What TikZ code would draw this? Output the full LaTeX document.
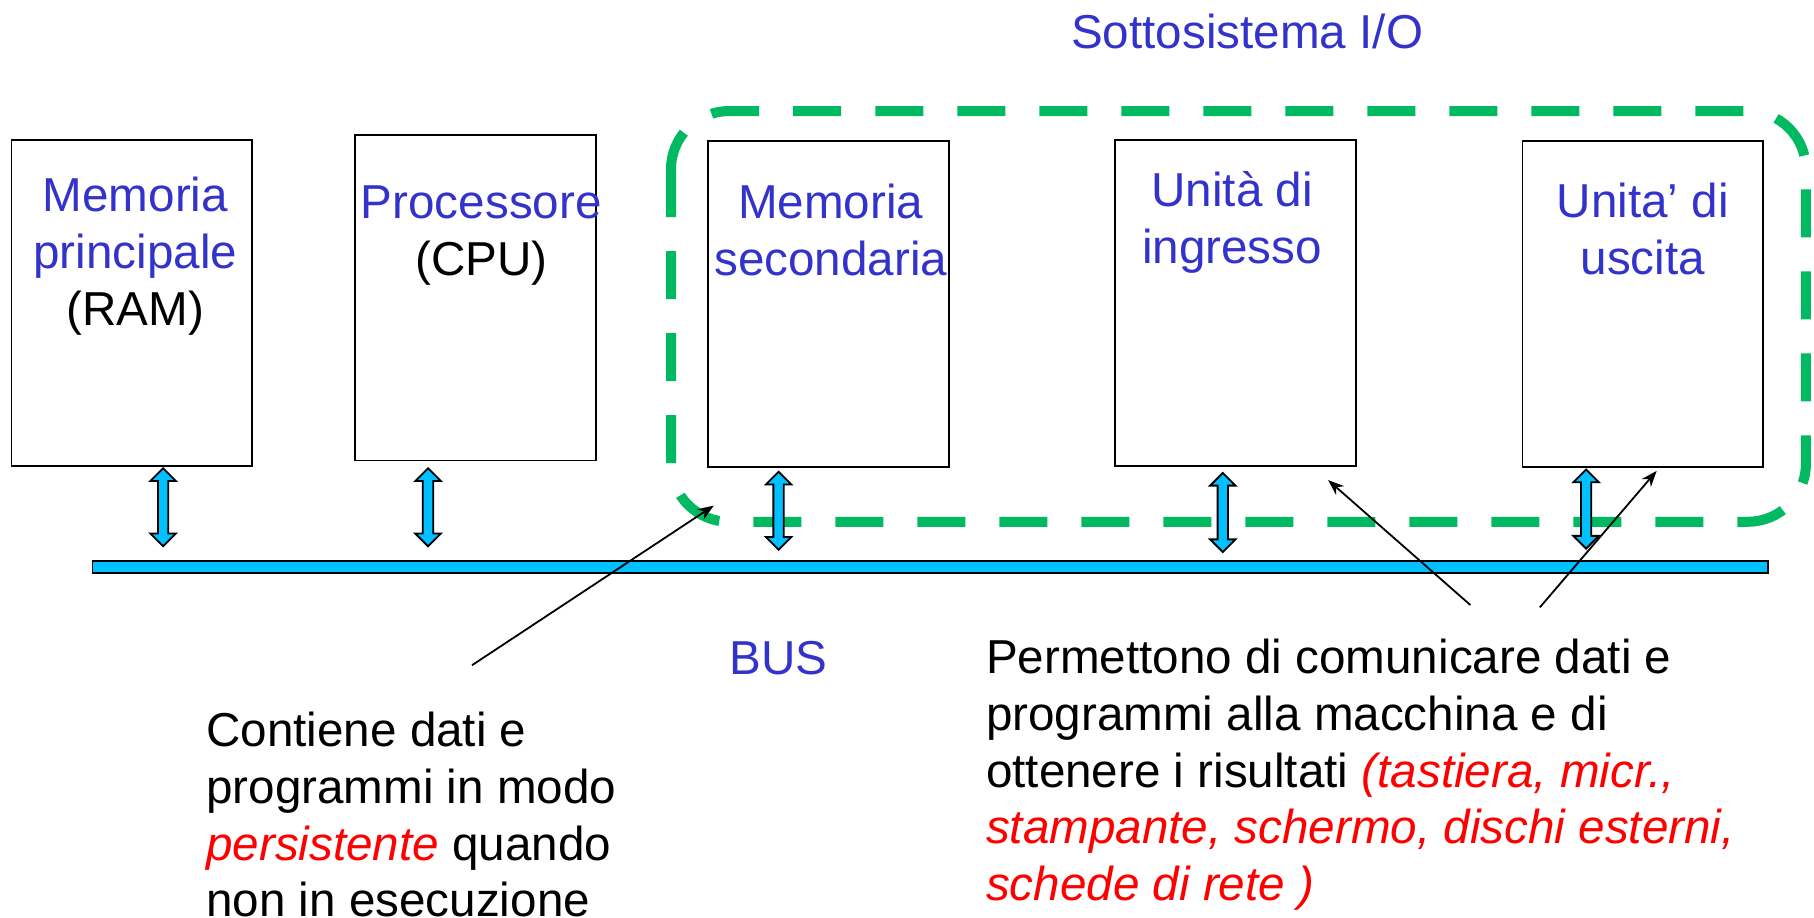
\documentclass[tikz,border=0pt]{standalone}
\usepackage{fontspec}
\setmainfont{Liberation Sans}
\usepackage{xcolor}
\usepackage{tikz}
\usetikzlibrary{arrows.meta}
\usetikzlibrary{calc}
\usetikzlibrary{positioning}

\definecolor{labelblue}{RGB}{51,51,204}
\definecolor{iogreen}{RGB}{0,185,96}
\definecolor{buscyan}{RGB}{0,192,255}
\newcommand{\slidefont}{\fontsize{23.8}{28.4}\selectfont}

\begin{document}
\begin{tikzpicture}[x=0.5784pt, y=-0.5784pt,
    unit/.style={draw, line width=0.9pt, fill=white, inner sep=0pt,
      minimum width=120.3pt, minimum height=163.1pt},
    unittext/.style={anchor=north, align=center, inner sep=0pt,
      text=labelblue, font=\slidefont},
    note/.style={anchor=north west, align=left, inner sep=0pt,
      font=\slidefont},
    iobox/.style={draw=iogreen, line width=5pt,
      dash pattern=on 24pt off 17pt, rounded corners=29pt},
    busarrow/.style={draw, line width=0.9pt, fill=buscyan,
      line join=miter},
    pointer/.style={line width=0.9pt, -{Stealth[length=8pt, width=6pt]}}]

    \useasboundingbox (0,0) rectangle (1568,793);

    % I/O subsystem frame
    \draw [iobox] (580,96) rectangle (1561,451);
    \node [unittext] (iotitle) at (1078,12) {Sottosistema I/O};

    % units
    \node [unit] (ram) at (114,262) {};
    \node [unit, minimum height=162.5pt] (cpu) at (411,257.5) {};
    \node [unit] (secmem) at (716,263) {};
    \node [unit] (inunit) at (1068,262) {};
    \node [unit] (outunit) at (1420,263) {};

    \node [unittext] (ramtext) at (117,153)
      {Memoria\\principale\\{\color{black}(RAM)}};
    \node [unittext] (cputext) at (416,160)
      {Processore\\{\color{black}(CPU)}};
    \node [unittext] (secmemtext) at (718,159) {Memoria\\secondaria};
    \node [unittext] (inunittext) at (1065,148) {Unità di\\ingresso};
    \node [unittext] (outunittext) at (1420,158) {Unita’ di\\uscita};

    % bus
    \node [draw, line width=0.9pt, fill=buscyan, inner sep=0pt,
      minimum width=837.5pt, minimum height=5.8pt] (bus) at (804,490) {};
    \node [unittext] (bustext) at (673,554) {BUS};

    % block arrows between units and bus
    \foreach \u/\dx/\ta/\tb in {ram/27/1/12, cpu/-41/6/12, secmem/-43/3/9,
        inunit/-11/5/7, outunit/-49/1/10} {
      \coordinate (top) at ($(\u.south)+(\dx,\ta)$);
      \coordinate (bot) at ($(top |- bus.north)+(0,-\tb)$);
      \draw [busarrow] (top) -- ++(11,11) -- ++(-6.5,0)
        -- ($(bot)+(4.5,-11)$) -- ++(6.5,0) -- (bot) -- ++(-11,-11)
        -- ++(6.5,0) -- ($(top)+(-4.5,11)$) -- ++(-6.5,0) -- cycle;
    }

    % notes
    \node [note] (memnote) at (178,615)
      {Contiene dati e\\programmi in modo\\{\color{red}\itshape persistente} quando\\non in esecuzione};
    \node [note] (ionote) at (852,552)
      {Permettono di comunicare dati e\\programmi alla macchina e di\\ottenere i risultati {\color{red}\itshape (tastiera, micr.,}\\{\color{red}\itshape stampante, schermo, dischi esterni,}\\{\color{red}\itshape schede di rete )}};

    % pointers
    \coordinate (memfrom) at (408,575);
    \coordinate (memto) at (617,437);
    \coordinate (infrom) at (1271,523);
    \coordinate (into) at (1148,415);
    \coordinate (outfrom) at (1331,525);
    \coordinate (outto) at (1432,407);
    \draw [pointer] (memfrom) -- (memto);
    \draw [pointer] (infrom) -- (into);
    \draw [pointer] (outfrom) -- (outto);

  \end{tikzpicture}
\end{document}
